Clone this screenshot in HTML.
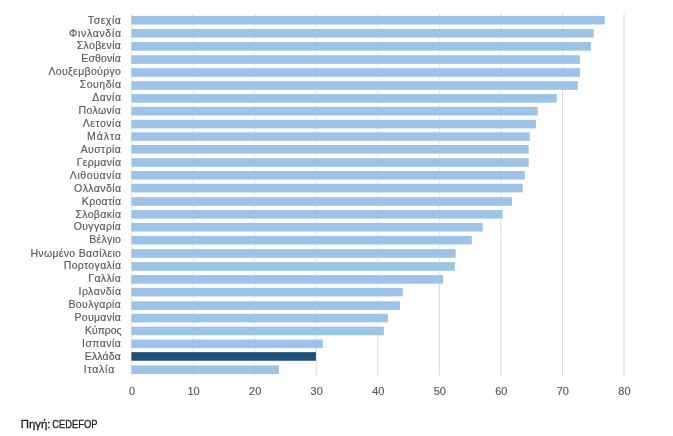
<!DOCTYPE html>
<html><head><meta charset="utf-8"><style>
html,body{margin:0;padding:0;background:#fff;}
svg{display:block;will-change:transform;font-family:"Liberation Sans",sans-serif;}
text{font-size:10.5px;fill:#595959;stroke:#595959;stroke-width:0.15px;}
text.ax{font-size:11px;stroke-width:0.15px;}
text.src{font-size:10.4px;fill:#222228;stroke:#222228;stroke-width:0.3px;}
</style></head><body>
<svg width="673" height="436" viewBox="0 0 673 436">
<rect width="673" height="436" fill="#fff"/>
<line x1="131.70" y1="13.80" x2="131.70" y2="24.50" stroke="#d9d9d9" stroke-width="1"/>
<line x1="131.70" y1="24.50" x2="131.70" y2="29.00" stroke="#eaeaea" stroke-width="1"/>
<line x1="131.70" y1="29.00" x2="131.70" y2="37.60" stroke="#d9d9d9" stroke-width="1"/>
<line x1="131.70" y1="37.60" x2="131.70" y2="42.05" stroke="#eaeaea" stroke-width="1"/>
<line x1="131.70" y1="42.05" x2="131.70" y2="50.65" stroke="#d9d9d9" stroke-width="1"/>
<line x1="131.70" y1="50.65" x2="131.70" y2="55.25" stroke="#eaeaea" stroke-width="1"/>
<line x1="131.70" y1="55.25" x2="131.70" y2="63.85" stroke="#d9d9d9" stroke-width="1"/>
<line x1="131.70" y1="63.85" x2="131.70" y2="68.20" stroke="#eaeaea" stroke-width="1"/>
<line x1="131.70" y1="68.20" x2="131.70" y2="76.80" stroke="#d9d9d9" stroke-width="1"/>
<line x1="131.70" y1="76.80" x2="131.70" y2="81.20" stroke="#eaeaea" stroke-width="1"/>
<line x1="131.70" y1="81.20" x2="131.70" y2="89.80" stroke="#d9d9d9" stroke-width="1"/>
<line x1="131.70" y1="89.80" x2="131.70" y2="94.05" stroke="#eaeaea" stroke-width="1"/>
<line x1="131.70" y1="94.05" x2="131.70" y2="102.65" stroke="#d9d9d9" stroke-width="1"/>
<line x1="131.70" y1="102.65" x2="131.70" y2="106.90" stroke="#eaeaea" stroke-width="1"/>
<line x1="131.70" y1="106.90" x2="131.70" y2="115.50" stroke="#d9d9d9" stroke-width="1"/>
<line x1="131.70" y1="115.50" x2="131.70" y2="119.85" stroke="#eaeaea" stroke-width="1"/>
<line x1="131.70" y1="119.85" x2="131.70" y2="128.45" stroke="#d9d9d9" stroke-width="1"/>
<line x1="131.70" y1="128.45" x2="131.70" y2="132.25" stroke="#eaeaea" stroke-width="1"/>
<line x1="131.70" y1="132.25" x2="131.70" y2="140.85" stroke="#d9d9d9" stroke-width="1"/>
<line x1="131.70" y1="140.85" x2="131.70" y2="145.00" stroke="#eaeaea" stroke-width="1"/>
<line x1="131.70" y1="145.00" x2="131.70" y2="153.60" stroke="#d9d9d9" stroke-width="1"/>
<line x1="131.70" y1="153.60" x2="131.70" y2="158.20" stroke="#eaeaea" stroke-width="1"/>
<line x1="131.70" y1="158.20" x2="131.70" y2="166.80" stroke="#d9d9d9" stroke-width="1"/>
<line x1="131.70" y1="166.80" x2="131.70" y2="171.00" stroke="#eaeaea" stroke-width="1"/>
<line x1="131.70" y1="171.00" x2="131.70" y2="179.60" stroke="#d9d9d9" stroke-width="1"/>
<line x1="131.70" y1="179.60" x2="131.70" y2="183.80" stroke="#eaeaea" stroke-width="1"/>
<line x1="131.70" y1="183.80" x2="131.70" y2="192.40" stroke="#d9d9d9" stroke-width="1"/>
<line x1="131.70" y1="192.40" x2="131.70" y2="197.20" stroke="#eaeaea" stroke-width="1"/>
<line x1="131.70" y1="197.20" x2="131.70" y2="205.80" stroke="#d9d9d9" stroke-width="1"/>
<line x1="131.70" y1="205.80" x2="131.70" y2="210.05" stroke="#eaeaea" stroke-width="1"/>
<line x1="131.70" y1="210.05" x2="131.70" y2="218.65" stroke="#d9d9d9" stroke-width="1"/>
<line x1="131.70" y1="218.65" x2="131.70" y2="222.90" stroke="#eaeaea" stroke-width="1"/>
<line x1="131.70" y1="222.90" x2="131.70" y2="231.50" stroke="#d9d9d9" stroke-width="1"/>
<line x1="131.70" y1="231.50" x2="131.70" y2="235.90" stroke="#eaeaea" stroke-width="1"/>
<line x1="131.70" y1="235.90" x2="131.70" y2="244.50" stroke="#d9d9d9" stroke-width="1"/>
<line x1="131.70" y1="244.50" x2="131.70" y2="249.10" stroke="#eaeaea" stroke-width="1"/>
<line x1="131.70" y1="249.10" x2="131.70" y2="257.70" stroke="#d9d9d9" stroke-width="1"/>
<line x1="131.70" y1="257.70" x2="131.70" y2="262.15" stroke="#eaeaea" stroke-width="1"/>
<line x1="131.70" y1="262.15" x2="131.70" y2="270.75" stroke="#d9d9d9" stroke-width="1"/>
<line x1="131.70" y1="270.75" x2="131.70" y2="275.10" stroke="#eaeaea" stroke-width="1"/>
<line x1="131.70" y1="275.10" x2="131.70" y2="283.70" stroke="#d9d9d9" stroke-width="1"/>
<line x1="131.70" y1="283.70" x2="131.70" y2="287.81" stroke="#eaeaea" stroke-width="1"/>
<line x1="131.70" y1="287.81" x2="131.70" y2="296.42" stroke="#d9d9d9" stroke-width="1"/>
<line x1="131.70" y1="296.42" x2="131.70" y2="301.30" stroke="#eaeaea" stroke-width="1"/>
<line x1="131.70" y1="301.30" x2="131.70" y2="309.90" stroke="#d9d9d9" stroke-width="1"/>
<line x1="131.70" y1="309.90" x2="131.70" y2="313.80" stroke="#eaeaea" stroke-width="1"/>
<line x1="131.70" y1="313.80" x2="131.70" y2="322.40" stroke="#d9d9d9" stroke-width="1"/>
<line x1="131.70" y1="322.40" x2="131.70" y2="326.65" stroke="#eaeaea" stroke-width="1"/>
<line x1="131.70" y1="326.65" x2="131.70" y2="335.25" stroke="#d9d9d9" stroke-width="1"/>
<line x1="131.70" y1="335.25" x2="131.70" y2="339.50" stroke="#eaeaea" stroke-width="1"/>
<line x1="131.70" y1="339.50" x2="131.70" y2="348.10" stroke="#d9d9d9" stroke-width="1"/>
<line x1="131.70" y1="348.10" x2="131.70" y2="352.15" stroke="#eaeaea" stroke-width="1"/>
<line x1="131.70" y1="352.15" x2="131.70" y2="360.75" stroke="#d9d9d9" stroke-width="1"/>
<line x1="131.70" y1="360.75" x2="131.70" y2="365.43" stroke="#eaeaea" stroke-width="1"/>
<line x1="131.70" y1="365.43" x2="131.70" y2="375.60" stroke="#d9d9d9" stroke-width="1"/>
<line x1="193.24" y1="13.80" x2="193.24" y2="24.50" stroke="#d9d9d9" stroke-width="1"/>
<line x1="193.24" y1="24.50" x2="193.24" y2="29.00" stroke="#eaeaea" stroke-width="1"/>
<line x1="193.24" y1="29.00" x2="193.24" y2="37.60" stroke="#d9d9d9" stroke-width="1"/>
<line x1="193.24" y1="37.60" x2="193.24" y2="42.05" stroke="#eaeaea" stroke-width="1"/>
<line x1="193.24" y1="42.05" x2="193.24" y2="50.65" stroke="#d9d9d9" stroke-width="1"/>
<line x1="193.24" y1="50.65" x2="193.24" y2="55.25" stroke="#eaeaea" stroke-width="1"/>
<line x1="193.24" y1="55.25" x2="193.24" y2="63.85" stroke="#d9d9d9" stroke-width="1"/>
<line x1="193.24" y1="63.85" x2="193.24" y2="68.20" stroke="#eaeaea" stroke-width="1"/>
<line x1="193.24" y1="68.20" x2="193.24" y2="76.80" stroke="#d9d9d9" stroke-width="1"/>
<line x1="193.24" y1="76.80" x2="193.24" y2="81.20" stroke="#eaeaea" stroke-width="1"/>
<line x1="193.24" y1="81.20" x2="193.24" y2="89.80" stroke="#d9d9d9" stroke-width="1"/>
<line x1="193.24" y1="89.80" x2="193.24" y2="94.05" stroke="#eaeaea" stroke-width="1"/>
<line x1="193.24" y1="94.05" x2="193.24" y2="102.65" stroke="#d9d9d9" stroke-width="1"/>
<line x1="193.24" y1="102.65" x2="193.24" y2="106.90" stroke="#eaeaea" stroke-width="1"/>
<line x1="193.24" y1="106.90" x2="193.24" y2="115.50" stroke="#d9d9d9" stroke-width="1"/>
<line x1="193.24" y1="115.50" x2="193.24" y2="119.85" stroke="#eaeaea" stroke-width="1"/>
<line x1="193.24" y1="119.85" x2="193.24" y2="128.45" stroke="#d9d9d9" stroke-width="1"/>
<line x1="193.24" y1="128.45" x2="193.24" y2="132.25" stroke="#eaeaea" stroke-width="1"/>
<line x1="193.24" y1="132.25" x2="193.24" y2="140.85" stroke="#d9d9d9" stroke-width="1"/>
<line x1="193.24" y1="140.85" x2="193.24" y2="145.00" stroke="#eaeaea" stroke-width="1"/>
<line x1="193.24" y1="145.00" x2="193.24" y2="153.60" stroke="#d9d9d9" stroke-width="1"/>
<line x1="193.24" y1="153.60" x2="193.24" y2="158.20" stroke="#eaeaea" stroke-width="1"/>
<line x1="193.24" y1="158.20" x2="193.24" y2="166.80" stroke="#d9d9d9" stroke-width="1"/>
<line x1="193.24" y1="166.80" x2="193.24" y2="171.00" stroke="#eaeaea" stroke-width="1"/>
<line x1="193.24" y1="171.00" x2="193.24" y2="179.60" stroke="#d9d9d9" stroke-width="1"/>
<line x1="193.24" y1="179.60" x2="193.24" y2="183.80" stroke="#eaeaea" stroke-width="1"/>
<line x1="193.24" y1="183.80" x2="193.24" y2="192.40" stroke="#d9d9d9" stroke-width="1"/>
<line x1="193.24" y1="192.40" x2="193.24" y2="197.20" stroke="#eaeaea" stroke-width="1"/>
<line x1="193.24" y1="197.20" x2="193.24" y2="205.80" stroke="#d9d9d9" stroke-width="1"/>
<line x1="193.24" y1="205.80" x2="193.24" y2="210.05" stroke="#eaeaea" stroke-width="1"/>
<line x1="193.24" y1="210.05" x2="193.24" y2="218.65" stroke="#d9d9d9" stroke-width="1"/>
<line x1="193.24" y1="218.65" x2="193.24" y2="222.90" stroke="#eaeaea" stroke-width="1"/>
<line x1="193.24" y1="222.90" x2="193.24" y2="231.50" stroke="#d9d9d9" stroke-width="1"/>
<line x1="193.24" y1="231.50" x2="193.24" y2="235.90" stroke="#eaeaea" stroke-width="1"/>
<line x1="193.24" y1="235.90" x2="193.24" y2="244.50" stroke="#d9d9d9" stroke-width="1"/>
<line x1="193.24" y1="244.50" x2="193.24" y2="249.10" stroke="#eaeaea" stroke-width="1"/>
<line x1="193.24" y1="249.10" x2="193.24" y2="257.70" stroke="#d9d9d9" stroke-width="1"/>
<line x1="193.24" y1="257.70" x2="193.24" y2="262.15" stroke="#eaeaea" stroke-width="1"/>
<line x1="193.24" y1="262.15" x2="193.24" y2="270.75" stroke="#d9d9d9" stroke-width="1"/>
<line x1="193.24" y1="270.75" x2="193.24" y2="275.10" stroke="#eaeaea" stroke-width="1"/>
<line x1="193.24" y1="275.10" x2="193.24" y2="283.70" stroke="#d9d9d9" stroke-width="1"/>
<line x1="193.24" y1="283.70" x2="193.24" y2="287.81" stroke="#eaeaea" stroke-width="1"/>
<line x1="193.24" y1="287.81" x2="193.24" y2="296.42" stroke="#d9d9d9" stroke-width="1"/>
<line x1="193.24" y1="296.42" x2="193.24" y2="301.30" stroke="#eaeaea" stroke-width="1"/>
<line x1="193.24" y1="301.30" x2="193.24" y2="309.90" stroke="#d9d9d9" stroke-width="1"/>
<line x1="193.24" y1="309.90" x2="193.24" y2="313.80" stroke="#eaeaea" stroke-width="1"/>
<line x1="193.24" y1="313.80" x2="193.24" y2="322.40" stroke="#d9d9d9" stroke-width="1"/>
<line x1="193.24" y1="322.40" x2="193.24" y2="326.65" stroke="#eaeaea" stroke-width="1"/>
<line x1="193.24" y1="326.65" x2="193.24" y2="335.25" stroke="#d9d9d9" stroke-width="1"/>
<line x1="193.24" y1="335.25" x2="193.24" y2="339.50" stroke="#eaeaea" stroke-width="1"/>
<line x1="193.24" y1="339.50" x2="193.24" y2="348.10" stroke="#d9d9d9" stroke-width="1"/>
<line x1="193.24" y1="348.10" x2="193.24" y2="352.15" stroke="#eaeaea" stroke-width="1"/>
<line x1="193.24" y1="352.15" x2="193.24" y2="360.75" stroke="#d9d9d9" stroke-width="1"/>
<line x1="193.24" y1="360.75" x2="193.24" y2="365.43" stroke="#eaeaea" stroke-width="1"/>
<line x1="193.24" y1="365.43" x2="193.24" y2="375.60" stroke="#d9d9d9" stroke-width="1"/>
<line x1="254.78" y1="13.80" x2="254.78" y2="24.50" stroke="#d9d9d9" stroke-width="1"/>
<line x1="254.78" y1="24.50" x2="254.78" y2="29.00" stroke="#eaeaea" stroke-width="1"/>
<line x1="254.78" y1="29.00" x2="254.78" y2="37.60" stroke="#d9d9d9" stroke-width="1"/>
<line x1="254.78" y1="37.60" x2="254.78" y2="42.05" stroke="#eaeaea" stroke-width="1"/>
<line x1="254.78" y1="42.05" x2="254.78" y2="50.65" stroke="#d9d9d9" stroke-width="1"/>
<line x1="254.78" y1="50.65" x2="254.78" y2="55.25" stroke="#eaeaea" stroke-width="1"/>
<line x1="254.78" y1="55.25" x2="254.78" y2="63.85" stroke="#d9d9d9" stroke-width="1"/>
<line x1="254.78" y1="63.85" x2="254.78" y2="68.20" stroke="#eaeaea" stroke-width="1"/>
<line x1="254.78" y1="68.20" x2="254.78" y2="76.80" stroke="#d9d9d9" stroke-width="1"/>
<line x1="254.78" y1="76.80" x2="254.78" y2="81.20" stroke="#eaeaea" stroke-width="1"/>
<line x1="254.78" y1="81.20" x2="254.78" y2="89.80" stroke="#d9d9d9" stroke-width="1"/>
<line x1="254.78" y1="89.80" x2="254.78" y2="94.05" stroke="#eaeaea" stroke-width="1"/>
<line x1="254.78" y1="94.05" x2="254.78" y2="102.65" stroke="#d9d9d9" stroke-width="1"/>
<line x1="254.78" y1="102.65" x2="254.78" y2="106.90" stroke="#eaeaea" stroke-width="1"/>
<line x1="254.78" y1="106.90" x2="254.78" y2="115.50" stroke="#d9d9d9" stroke-width="1"/>
<line x1="254.78" y1="115.50" x2="254.78" y2="119.85" stroke="#eaeaea" stroke-width="1"/>
<line x1="254.78" y1="119.85" x2="254.78" y2="128.45" stroke="#d9d9d9" stroke-width="1"/>
<line x1="254.78" y1="128.45" x2="254.78" y2="132.25" stroke="#eaeaea" stroke-width="1"/>
<line x1="254.78" y1="132.25" x2="254.78" y2="140.85" stroke="#d9d9d9" stroke-width="1"/>
<line x1="254.78" y1="140.85" x2="254.78" y2="145.00" stroke="#eaeaea" stroke-width="1"/>
<line x1="254.78" y1="145.00" x2="254.78" y2="153.60" stroke="#d9d9d9" stroke-width="1"/>
<line x1="254.78" y1="153.60" x2="254.78" y2="158.20" stroke="#eaeaea" stroke-width="1"/>
<line x1="254.78" y1="158.20" x2="254.78" y2="166.80" stroke="#d9d9d9" stroke-width="1"/>
<line x1="254.78" y1="166.80" x2="254.78" y2="171.00" stroke="#eaeaea" stroke-width="1"/>
<line x1="254.78" y1="171.00" x2="254.78" y2="179.60" stroke="#d9d9d9" stroke-width="1"/>
<line x1="254.78" y1="179.60" x2="254.78" y2="183.80" stroke="#eaeaea" stroke-width="1"/>
<line x1="254.78" y1="183.80" x2="254.78" y2="192.40" stroke="#d9d9d9" stroke-width="1"/>
<line x1="254.78" y1="192.40" x2="254.78" y2="197.20" stroke="#eaeaea" stroke-width="1"/>
<line x1="254.78" y1="197.20" x2="254.78" y2="205.80" stroke="#d9d9d9" stroke-width="1"/>
<line x1="254.78" y1="205.80" x2="254.78" y2="210.05" stroke="#eaeaea" stroke-width="1"/>
<line x1="254.78" y1="210.05" x2="254.78" y2="218.65" stroke="#d9d9d9" stroke-width="1"/>
<line x1="254.78" y1="218.65" x2="254.78" y2="222.90" stroke="#eaeaea" stroke-width="1"/>
<line x1="254.78" y1="222.90" x2="254.78" y2="231.50" stroke="#d9d9d9" stroke-width="1"/>
<line x1="254.78" y1="231.50" x2="254.78" y2="235.90" stroke="#eaeaea" stroke-width="1"/>
<line x1="254.78" y1="235.90" x2="254.78" y2="244.50" stroke="#d9d9d9" stroke-width="1"/>
<line x1="254.78" y1="244.50" x2="254.78" y2="249.10" stroke="#eaeaea" stroke-width="1"/>
<line x1="254.78" y1="249.10" x2="254.78" y2="257.70" stroke="#d9d9d9" stroke-width="1"/>
<line x1="254.78" y1="257.70" x2="254.78" y2="262.15" stroke="#eaeaea" stroke-width="1"/>
<line x1="254.78" y1="262.15" x2="254.78" y2="270.75" stroke="#d9d9d9" stroke-width="1"/>
<line x1="254.78" y1="270.75" x2="254.78" y2="275.10" stroke="#eaeaea" stroke-width="1"/>
<line x1="254.78" y1="275.10" x2="254.78" y2="283.70" stroke="#d9d9d9" stroke-width="1"/>
<line x1="254.78" y1="283.70" x2="254.78" y2="287.81" stroke="#eaeaea" stroke-width="1"/>
<line x1="254.78" y1="287.81" x2="254.78" y2="296.42" stroke="#d9d9d9" stroke-width="1"/>
<line x1="254.78" y1="296.42" x2="254.78" y2="301.30" stroke="#eaeaea" stroke-width="1"/>
<line x1="254.78" y1="301.30" x2="254.78" y2="309.90" stroke="#d9d9d9" stroke-width="1"/>
<line x1="254.78" y1="309.90" x2="254.78" y2="313.80" stroke="#eaeaea" stroke-width="1"/>
<line x1="254.78" y1="313.80" x2="254.78" y2="322.40" stroke="#d9d9d9" stroke-width="1"/>
<line x1="254.78" y1="322.40" x2="254.78" y2="326.65" stroke="#eaeaea" stroke-width="1"/>
<line x1="254.78" y1="326.65" x2="254.78" y2="335.25" stroke="#d9d9d9" stroke-width="1"/>
<line x1="254.78" y1="335.25" x2="254.78" y2="339.50" stroke="#eaeaea" stroke-width="1"/>
<line x1="254.78" y1="339.50" x2="254.78" y2="348.10" stroke="#d9d9d9" stroke-width="1"/>
<line x1="254.78" y1="348.10" x2="254.78" y2="352.15" stroke="#eaeaea" stroke-width="1"/>
<line x1="254.78" y1="352.15" x2="254.78" y2="360.75" stroke="#d9d9d9" stroke-width="1"/>
<line x1="254.78" y1="360.75" x2="254.78" y2="365.43" stroke="#eaeaea" stroke-width="1"/>
<line x1="254.78" y1="365.43" x2="254.78" y2="375.60" stroke="#d9d9d9" stroke-width="1"/>
<line x1="316.32" y1="13.80" x2="316.32" y2="24.50" stroke="#d9d9d9" stroke-width="1"/>
<line x1="316.32" y1="24.50" x2="316.32" y2="29.00" stroke="#eaeaea" stroke-width="1"/>
<line x1="316.32" y1="29.00" x2="316.32" y2="37.60" stroke="#d9d9d9" stroke-width="1"/>
<line x1="316.32" y1="37.60" x2="316.32" y2="42.05" stroke="#eaeaea" stroke-width="1"/>
<line x1="316.32" y1="42.05" x2="316.32" y2="50.65" stroke="#d9d9d9" stroke-width="1"/>
<line x1="316.32" y1="50.65" x2="316.32" y2="55.25" stroke="#eaeaea" stroke-width="1"/>
<line x1="316.32" y1="55.25" x2="316.32" y2="63.85" stroke="#d9d9d9" stroke-width="1"/>
<line x1="316.32" y1="63.85" x2="316.32" y2="68.20" stroke="#eaeaea" stroke-width="1"/>
<line x1="316.32" y1="68.20" x2="316.32" y2="76.80" stroke="#d9d9d9" stroke-width="1"/>
<line x1="316.32" y1="76.80" x2="316.32" y2="81.20" stroke="#eaeaea" stroke-width="1"/>
<line x1="316.32" y1="81.20" x2="316.32" y2="89.80" stroke="#d9d9d9" stroke-width="1"/>
<line x1="316.32" y1="89.80" x2="316.32" y2="94.05" stroke="#eaeaea" stroke-width="1"/>
<line x1="316.32" y1="94.05" x2="316.32" y2="102.65" stroke="#d9d9d9" stroke-width="1"/>
<line x1="316.32" y1="102.65" x2="316.32" y2="106.90" stroke="#eaeaea" stroke-width="1"/>
<line x1="316.32" y1="106.90" x2="316.32" y2="115.50" stroke="#d9d9d9" stroke-width="1"/>
<line x1="316.32" y1="115.50" x2="316.32" y2="119.85" stroke="#eaeaea" stroke-width="1"/>
<line x1="316.32" y1="119.85" x2="316.32" y2="128.45" stroke="#d9d9d9" stroke-width="1"/>
<line x1="316.32" y1="128.45" x2="316.32" y2="132.25" stroke="#eaeaea" stroke-width="1"/>
<line x1="316.32" y1="132.25" x2="316.32" y2="140.85" stroke="#d9d9d9" stroke-width="1"/>
<line x1="316.32" y1="140.85" x2="316.32" y2="145.00" stroke="#eaeaea" stroke-width="1"/>
<line x1="316.32" y1="145.00" x2="316.32" y2="153.60" stroke="#d9d9d9" stroke-width="1"/>
<line x1="316.32" y1="153.60" x2="316.32" y2="158.20" stroke="#eaeaea" stroke-width="1"/>
<line x1="316.32" y1="158.20" x2="316.32" y2="166.80" stroke="#d9d9d9" stroke-width="1"/>
<line x1="316.32" y1="166.80" x2="316.32" y2="171.00" stroke="#eaeaea" stroke-width="1"/>
<line x1="316.32" y1="171.00" x2="316.32" y2="179.60" stroke="#d9d9d9" stroke-width="1"/>
<line x1="316.32" y1="179.60" x2="316.32" y2="183.80" stroke="#eaeaea" stroke-width="1"/>
<line x1="316.32" y1="183.80" x2="316.32" y2="192.40" stroke="#d9d9d9" stroke-width="1"/>
<line x1="316.32" y1="192.40" x2="316.32" y2="197.20" stroke="#eaeaea" stroke-width="1"/>
<line x1="316.32" y1="197.20" x2="316.32" y2="205.80" stroke="#d9d9d9" stroke-width="1"/>
<line x1="316.32" y1="205.80" x2="316.32" y2="210.05" stroke="#eaeaea" stroke-width="1"/>
<line x1="316.32" y1="210.05" x2="316.32" y2="218.65" stroke="#d9d9d9" stroke-width="1"/>
<line x1="316.32" y1="218.65" x2="316.32" y2="222.90" stroke="#eaeaea" stroke-width="1"/>
<line x1="316.32" y1="222.90" x2="316.32" y2="231.50" stroke="#d9d9d9" stroke-width="1"/>
<line x1="316.32" y1="231.50" x2="316.32" y2="235.90" stroke="#eaeaea" stroke-width="1"/>
<line x1="316.32" y1="235.90" x2="316.32" y2="244.50" stroke="#d9d9d9" stroke-width="1"/>
<line x1="316.32" y1="244.50" x2="316.32" y2="249.10" stroke="#eaeaea" stroke-width="1"/>
<line x1="316.32" y1="249.10" x2="316.32" y2="257.70" stroke="#d9d9d9" stroke-width="1"/>
<line x1="316.32" y1="257.70" x2="316.32" y2="262.15" stroke="#eaeaea" stroke-width="1"/>
<line x1="316.32" y1="262.15" x2="316.32" y2="270.75" stroke="#d9d9d9" stroke-width="1"/>
<line x1="316.32" y1="270.75" x2="316.32" y2="275.10" stroke="#eaeaea" stroke-width="1"/>
<line x1="316.32" y1="275.10" x2="316.32" y2="283.70" stroke="#d9d9d9" stroke-width="1"/>
<line x1="316.32" y1="283.70" x2="316.32" y2="287.81" stroke="#eaeaea" stroke-width="1"/>
<line x1="316.32" y1="287.81" x2="316.32" y2="296.42" stroke="#d9d9d9" stroke-width="1"/>
<line x1="316.32" y1="296.42" x2="316.32" y2="301.30" stroke="#eaeaea" stroke-width="1"/>
<line x1="316.32" y1="301.30" x2="316.32" y2="309.90" stroke="#d9d9d9" stroke-width="1"/>
<line x1="316.32" y1="309.90" x2="316.32" y2="313.80" stroke="#eaeaea" stroke-width="1"/>
<line x1="316.32" y1="313.80" x2="316.32" y2="322.40" stroke="#d9d9d9" stroke-width="1"/>
<line x1="316.32" y1="322.40" x2="316.32" y2="326.65" stroke="#eaeaea" stroke-width="1"/>
<line x1="316.32" y1="326.65" x2="316.32" y2="335.25" stroke="#d9d9d9" stroke-width="1"/>
<line x1="316.32" y1="335.25" x2="316.32" y2="339.50" stroke="#eaeaea" stroke-width="1"/>
<line x1="316.32" y1="339.50" x2="316.32" y2="375.60" stroke="#d9d9d9" stroke-width="1"/>
<line x1="377.86" y1="13.80" x2="377.86" y2="24.50" stroke="#d9d9d9" stroke-width="1"/>
<line x1="377.86" y1="24.50" x2="377.86" y2="29.00" stroke="#eaeaea" stroke-width="1"/>
<line x1="377.86" y1="29.00" x2="377.86" y2="37.60" stroke="#d9d9d9" stroke-width="1"/>
<line x1="377.86" y1="37.60" x2="377.86" y2="42.05" stroke="#eaeaea" stroke-width="1"/>
<line x1="377.86" y1="42.05" x2="377.86" y2="50.65" stroke="#d9d9d9" stroke-width="1"/>
<line x1="377.86" y1="50.65" x2="377.86" y2="55.25" stroke="#eaeaea" stroke-width="1"/>
<line x1="377.86" y1="55.25" x2="377.86" y2="63.85" stroke="#d9d9d9" stroke-width="1"/>
<line x1="377.86" y1="63.85" x2="377.86" y2="68.20" stroke="#eaeaea" stroke-width="1"/>
<line x1="377.86" y1="68.20" x2="377.86" y2="76.80" stroke="#d9d9d9" stroke-width="1"/>
<line x1="377.86" y1="76.80" x2="377.86" y2="81.20" stroke="#eaeaea" stroke-width="1"/>
<line x1="377.86" y1="81.20" x2="377.86" y2="89.80" stroke="#d9d9d9" stroke-width="1"/>
<line x1="377.86" y1="89.80" x2="377.86" y2="94.05" stroke="#eaeaea" stroke-width="1"/>
<line x1="377.86" y1="94.05" x2="377.86" y2="102.65" stroke="#d9d9d9" stroke-width="1"/>
<line x1="377.86" y1="102.65" x2="377.86" y2="106.90" stroke="#eaeaea" stroke-width="1"/>
<line x1="377.86" y1="106.90" x2="377.86" y2="115.50" stroke="#d9d9d9" stroke-width="1"/>
<line x1="377.86" y1="115.50" x2="377.86" y2="119.85" stroke="#eaeaea" stroke-width="1"/>
<line x1="377.86" y1="119.85" x2="377.86" y2="128.45" stroke="#d9d9d9" stroke-width="1"/>
<line x1="377.86" y1="128.45" x2="377.86" y2="132.25" stroke="#eaeaea" stroke-width="1"/>
<line x1="377.86" y1="132.25" x2="377.86" y2="140.85" stroke="#d9d9d9" stroke-width="1"/>
<line x1="377.86" y1="140.85" x2="377.86" y2="145.00" stroke="#eaeaea" stroke-width="1"/>
<line x1="377.86" y1="145.00" x2="377.86" y2="153.60" stroke="#d9d9d9" stroke-width="1"/>
<line x1="377.86" y1="153.60" x2="377.86" y2="158.20" stroke="#eaeaea" stroke-width="1"/>
<line x1="377.86" y1="158.20" x2="377.86" y2="166.80" stroke="#d9d9d9" stroke-width="1"/>
<line x1="377.86" y1="166.80" x2="377.86" y2="171.00" stroke="#eaeaea" stroke-width="1"/>
<line x1="377.86" y1="171.00" x2="377.86" y2="179.60" stroke="#d9d9d9" stroke-width="1"/>
<line x1="377.86" y1="179.60" x2="377.86" y2="183.80" stroke="#eaeaea" stroke-width="1"/>
<line x1="377.86" y1="183.80" x2="377.86" y2="192.40" stroke="#d9d9d9" stroke-width="1"/>
<line x1="377.86" y1="192.40" x2="377.86" y2="197.20" stroke="#eaeaea" stroke-width="1"/>
<line x1="377.86" y1="197.20" x2="377.86" y2="205.80" stroke="#d9d9d9" stroke-width="1"/>
<line x1="377.86" y1="205.80" x2="377.86" y2="210.05" stroke="#eaeaea" stroke-width="1"/>
<line x1="377.86" y1="210.05" x2="377.86" y2="218.65" stroke="#d9d9d9" stroke-width="1"/>
<line x1="377.86" y1="218.65" x2="377.86" y2="222.90" stroke="#eaeaea" stroke-width="1"/>
<line x1="377.86" y1="222.90" x2="377.86" y2="231.50" stroke="#d9d9d9" stroke-width="1"/>
<line x1="377.86" y1="231.50" x2="377.86" y2="235.90" stroke="#eaeaea" stroke-width="1"/>
<line x1="377.86" y1="235.90" x2="377.86" y2="244.50" stroke="#d9d9d9" stroke-width="1"/>
<line x1="377.86" y1="244.50" x2="377.86" y2="249.10" stroke="#eaeaea" stroke-width="1"/>
<line x1="377.86" y1="249.10" x2="377.86" y2="257.70" stroke="#d9d9d9" stroke-width="1"/>
<line x1="377.86" y1="257.70" x2="377.86" y2="262.15" stroke="#eaeaea" stroke-width="1"/>
<line x1="377.86" y1="262.15" x2="377.86" y2="270.75" stroke="#d9d9d9" stroke-width="1"/>
<line x1="377.86" y1="270.75" x2="377.86" y2="275.10" stroke="#eaeaea" stroke-width="1"/>
<line x1="377.86" y1="275.10" x2="377.86" y2="283.70" stroke="#d9d9d9" stroke-width="1"/>
<line x1="377.86" y1="283.70" x2="377.86" y2="287.81" stroke="#eaeaea" stroke-width="1"/>
<line x1="377.86" y1="287.81" x2="377.86" y2="296.42" stroke="#d9d9d9" stroke-width="1"/>
<line x1="377.86" y1="296.42" x2="377.86" y2="301.30" stroke="#eaeaea" stroke-width="1"/>
<line x1="377.86" y1="301.30" x2="377.86" y2="309.90" stroke="#d9d9d9" stroke-width="1"/>
<line x1="377.86" y1="309.90" x2="377.86" y2="313.80" stroke="#eaeaea" stroke-width="1"/>
<line x1="377.86" y1="313.80" x2="377.86" y2="322.40" stroke="#d9d9d9" stroke-width="1"/>
<line x1="377.86" y1="322.40" x2="377.86" y2="326.65" stroke="#eaeaea" stroke-width="1"/>
<line x1="377.86" y1="326.65" x2="377.86" y2="375.60" stroke="#d9d9d9" stroke-width="1"/>
<line x1="439.40" y1="13.80" x2="439.40" y2="24.50" stroke="#d9d9d9" stroke-width="1"/>
<line x1="439.40" y1="24.50" x2="439.40" y2="29.00" stroke="#eaeaea" stroke-width="1"/>
<line x1="439.40" y1="29.00" x2="439.40" y2="37.60" stroke="#d9d9d9" stroke-width="1"/>
<line x1="439.40" y1="37.60" x2="439.40" y2="42.05" stroke="#eaeaea" stroke-width="1"/>
<line x1="439.40" y1="42.05" x2="439.40" y2="50.65" stroke="#d9d9d9" stroke-width="1"/>
<line x1="439.40" y1="50.65" x2="439.40" y2="55.25" stroke="#eaeaea" stroke-width="1"/>
<line x1="439.40" y1="55.25" x2="439.40" y2="63.85" stroke="#d9d9d9" stroke-width="1"/>
<line x1="439.40" y1="63.85" x2="439.40" y2="68.20" stroke="#eaeaea" stroke-width="1"/>
<line x1="439.40" y1="68.20" x2="439.40" y2="76.80" stroke="#d9d9d9" stroke-width="1"/>
<line x1="439.40" y1="76.80" x2="439.40" y2="81.20" stroke="#eaeaea" stroke-width="1"/>
<line x1="439.40" y1="81.20" x2="439.40" y2="89.80" stroke="#d9d9d9" stroke-width="1"/>
<line x1="439.40" y1="89.80" x2="439.40" y2="94.05" stroke="#eaeaea" stroke-width="1"/>
<line x1="439.40" y1="94.05" x2="439.40" y2="102.65" stroke="#d9d9d9" stroke-width="1"/>
<line x1="439.40" y1="102.65" x2="439.40" y2="106.90" stroke="#eaeaea" stroke-width="1"/>
<line x1="439.40" y1="106.90" x2="439.40" y2="115.50" stroke="#d9d9d9" stroke-width="1"/>
<line x1="439.40" y1="115.50" x2="439.40" y2="119.85" stroke="#eaeaea" stroke-width="1"/>
<line x1="439.40" y1="119.85" x2="439.40" y2="128.45" stroke="#d9d9d9" stroke-width="1"/>
<line x1="439.40" y1="128.45" x2="439.40" y2="132.25" stroke="#eaeaea" stroke-width="1"/>
<line x1="439.40" y1="132.25" x2="439.40" y2="140.85" stroke="#d9d9d9" stroke-width="1"/>
<line x1="439.40" y1="140.85" x2="439.40" y2="145.00" stroke="#eaeaea" stroke-width="1"/>
<line x1="439.40" y1="145.00" x2="439.40" y2="153.60" stroke="#d9d9d9" stroke-width="1"/>
<line x1="439.40" y1="153.60" x2="439.40" y2="158.20" stroke="#eaeaea" stroke-width="1"/>
<line x1="439.40" y1="158.20" x2="439.40" y2="166.80" stroke="#d9d9d9" stroke-width="1"/>
<line x1="439.40" y1="166.80" x2="439.40" y2="171.00" stroke="#eaeaea" stroke-width="1"/>
<line x1="439.40" y1="171.00" x2="439.40" y2="179.60" stroke="#d9d9d9" stroke-width="1"/>
<line x1="439.40" y1="179.60" x2="439.40" y2="183.80" stroke="#eaeaea" stroke-width="1"/>
<line x1="439.40" y1="183.80" x2="439.40" y2="192.40" stroke="#d9d9d9" stroke-width="1"/>
<line x1="439.40" y1="192.40" x2="439.40" y2="197.20" stroke="#eaeaea" stroke-width="1"/>
<line x1="439.40" y1="197.20" x2="439.40" y2="205.80" stroke="#d9d9d9" stroke-width="1"/>
<line x1="439.40" y1="205.80" x2="439.40" y2="210.05" stroke="#eaeaea" stroke-width="1"/>
<line x1="439.40" y1="210.05" x2="439.40" y2="218.65" stroke="#d9d9d9" stroke-width="1"/>
<line x1="439.40" y1="218.65" x2="439.40" y2="222.90" stroke="#eaeaea" stroke-width="1"/>
<line x1="439.40" y1="222.90" x2="439.40" y2="231.50" stroke="#d9d9d9" stroke-width="1"/>
<line x1="439.40" y1="231.50" x2="439.40" y2="235.90" stroke="#eaeaea" stroke-width="1"/>
<line x1="439.40" y1="235.90" x2="439.40" y2="244.50" stroke="#d9d9d9" stroke-width="1"/>
<line x1="439.40" y1="244.50" x2="439.40" y2="249.10" stroke="#eaeaea" stroke-width="1"/>
<line x1="439.40" y1="249.10" x2="439.40" y2="257.70" stroke="#d9d9d9" stroke-width="1"/>
<line x1="439.40" y1="257.70" x2="439.40" y2="262.15" stroke="#eaeaea" stroke-width="1"/>
<line x1="439.40" y1="262.15" x2="439.40" y2="270.75" stroke="#d9d9d9" stroke-width="1"/>
<line x1="439.40" y1="270.75" x2="439.40" y2="275.10" stroke="#eaeaea" stroke-width="1"/>
<line x1="439.40" y1="275.10" x2="439.40" y2="375.60" stroke="#d9d9d9" stroke-width="1"/>
<line x1="500.94" y1="13.80" x2="500.94" y2="24.50" stroke="#d9d9d9" stroke-width="1"/>
<line x1="500.94" y1="24.50" x2="500.94" y2="29.00" stroke="#eaeaea" stroke-width="1"/>
<line x1="500.94" y1="29.00" x2="500.94" y2="37.60" stroke="#d9d9d9" stroke-width="1"/>
<line x1="500.94" y1="37.60" x2="500.94" y2="42.05" stroke="#eaeaea" stroke-width="1"/>
<line x1="500.94" y1="42.05" x2="500.94" y2="50.65" stroke="#d9d9d9" stroke-width="1"/>
<line x1="500.94" y1="50.65" x2="500.94" y2="55.25" stroke="#eaeaea" stroke-width="1"/>
<line x1="500.94" y1="55.25" x2="500.94" y2="63.85" stroke="#d9d9d9" stroke-width="1"/>
<line x1="500.94" y1="63.85" x2="500.94" y2="68.20" stroke="#eaeaea" stroke-width="1"/>
<line x1="500.94" y1="68.20" x2="500.94" y2="76.80" stroke="#d9d9d9" stroke-width="1"/>
<line x1="500.94" y1="76.80" x2="500.94" y2="81.20" stroke="#eaeaea" stroke-width="1"/>
<line x1="500.94" y1="81.20" x2="500.94" y2="89.80" stroke="#d9d9d9" stroke-width="1"/>
<line x1="500.94" y1="89.80" x2="500.94" y2="94.05" stroke="#eaeaea" stroke-width="1"/>
<line x1="500.94" y1="94.05" x2="500.94" y2="102.65" stroke="#d9d9d9" stroke-width="1"/>
<line x1="500.94" y1="102.65" x2="500.94" y2="106.90" stroke="#eaeaea" stroke-width="1"/>
<line x1="500.94" y1="106.90" x2="500.94" y2="115.50" stroke="#d9d9d9" stroke-width="1"/>
<line x1="500.94" y1="115.50" x2="500.94" y2="119.85" stroke="#eaeaea" stroke-width="1"/>
<line x1="500.94" y1="119.85" x2="500.94" y2="128.45" stroke="#d9d9d9" stroke-width="1"/>
<line x1="500.94" y1="128.45" x2="500.94" y2="132.25" stroke="#eaeaea" stroke-width="1"/>
<line x1="500.94" y1="132.25" x2="500.94" y2="140.85" stroke="#d9d9d9" stroke-width="1"/>
<line x1="500.94" y1="140.85" x2="500.94" y2="145.00" stroke="#eaeaea" stroke-width="1"/>
<line x1="500.94" y1="145.00" x2="500.94" y2="153.60" stroke="#d9d9d9" stroke-width="1"/>
<line x1="500.94" y1="153.60" x2="500.94" y2="158.20" stroke="#eaeaea" stroke-width="1"/>
<line x1="500.94" y1="158.20" x2="500.94" y2="166.80" stroke="#d9d9d9" stroke-width="1"/>
<line x1="500.94" y1="166.80" x2="500.94" y2="171.00" stroke="#eaeaea" stroke-width="1"/>
<line x1="500.94" y1="171.00" x2="500.94" y2="179.60" stroke="#d9d9d9" stroke-width="1"/>
<line x1="500.94" y1="179.60" x2="500.94" y2="183.80" stroke="#eaeaea" stroke-width="1"/>
<line x1="500.94" y1="183.80" x2="500.94" y2="192.40" stroke="#d9d9d9" stroke-width="1"/>
<line x1="500.94" y1="192.40" x2="500.94" y2="197.20" stroke="#eaeaea" stroke-width="1"/>
<line x1="500.94" y1="197.20" x2="500.94" y2="205.80" stroke="#d9d9d9" stroke-width="1"/>
<line x1="500.94" y1="205.80" x2="500.94" y2="210.05" stroke="#eaeaea" stroke-width="1"/>
<line x1="500.94" y1="210.05" x2="500.94" y2="375.60" stroke="#d9d9d9" stroke-width="1"/>
<line x1="562.48" y1="13.80" x2="562.48" y2="24.50" stroke="#d9d9d9" stroke-width="1"/>
<line x1="562.48" y1="24.50" x2="562.48" y2="29.00" stroke="#eaeaea" stroke-width="1"/>
<line x1="562.48" y1="29.00" x2="562.48" y2="37.60" stroke="#d9d9d9" stroke-width="1"/>
<line x1="562.48" y1="37.60" x2="562.48" y2="42.05" stroke="#eaeaea" stroke-width="1"/>
<line x1="562.48" y1="42.05" x2="562.48" y2="50.65" stroke="#d9d9d9" stroke-width="1"/>
<line x1="562.48" y1="50.65" x2="562.48" y2="55.25" stroke="#eaeaea" stroke-width="1"/>
<line x1="562.48" y1="55.25" x2="562.48" y2="63.85" stroke="#d9d9d9" stroke-width="1"/>
<line x1="562.48" y1="63.85" x2="562.48" y2="68.20" stroke="#eaeaea" stroke-width="1"/>
<line x1="562.48" y1="68.20" x2="562.48" y2="76.80" stroke="#d9d9d9" stroke-width="1"/>
<line x1="562.48" y1="76.80" x2="562.48" y2="81.20" stroke="#eaeaea" stroke-width="1"/>
<line x1="562.48" y1="81.20" x2="562.48" y2="375.60" stroke="#d9d9d9" stroke-width="1"/>
<line x1="624.02" y1="13.80" x2="624.02" y2="375.60" stroke="#d9d9d9" stroke-width="1"/>
<rect x="131.40" y="15.90" width="473.40" height="8.6" fill="#9dc3e6"/>
<rect x="131.40" y="29.00" width="462.30" height="8.6" fill="#9dc3e6"/>
<rect x="131.40" y="42.05" width="459.40" height="8.6" fill="#9dc3e6"/>
<rect x="131.40" y="55.25" width="448.50" height="8.6" fill="#9dc3e6"/>
<rect x="131.40" y="68.20" width="448.50" height="8.6" fill="#9dc3e6"/>
<rect x="131.40" y="81.20" width="446.40" height="8.6" fill="#9dc3e6"/>
<rect x="131.40" y="94.05" width="425.40" height="8.6" fill="#9dc3e6"/>
<rect x="131.40" y="106.90" width="406.30" height="8.6" fill="#9dc3e6"/>
<rect x="131.40" y="119.85" width="404.50" height="8.6" fill="#9dc3e6"/>
<rect x="131.40" y="132.25" width="398.30" height="8.6" fill="#9dc3e6"/>
<rect x="131.40" y="145.00" width="397.30" height="8.6" fill="#9dc3e6"/>
<rect x="131.40" y="158.20" width="397.30" height="8.6" fill="#9dc3e6"/>
<rect x="131.40" y="171.00" width="393.30" height="8.6" fill="#9dc3e6"/>
<rect x="131.40" y="183.80" width="391.30" height="8.6" fill="#9dc3e6"/>
<rect x="131.40" y="197.20" width="380.50" height="8.6" fill="#9dc3e6"/>
<rect x="131.40" y="210.05" width="371.20" height="8.6" fill="#9dc3e6"/>
<rect x="131.40" y="222.90" width="351.30" height="8.6" fill="#9dc3e6"/>
<rect x="131.40" y="235.90" width="340.40" height="8.6" fill="#9dc3e6"/>
<rect x="131.40" y="249.10" width="324.30" height="8.6" fill="#9dc3e6"/>
<rect x="131.40" y="262.15" width="323.40" height="8.6" fill="#9dc3e6"/>
<rect x="131.40" y="275.10" width="311.60" height="8.6" fill="#9dc3e6"/>
<rect x="131.40" y="287.81" width="271.40" height="8.6" fill="#9dc3e6"/>
<rect x="131.40" y="301.30" width="268.50" height="8.6" fill="#9dc3e6"/>
<rect x="131.40" y="313.80" width="256.40" height="8.6" fill="#9dc3e6"/>
<rect x="131.40" y="326.65" width="252.40" height="8.6" fill="#9dc3e6"/>
<rect x="131.40" y="339.50" width="191.40" height="8.6" fill="#9dc3e6"/>
<rect x="131.40" y="352.15" width="184.50" height="8.6" fill="#1f4e79"/>
<rect x="131.40" y="365.43" width="147.40" height="8.6" fill="#9dc3e6"/>
<text x="120.88" y="23.64" text-anchor="end" textLength="33.05" lengthAdjust="spacing">Τσεχία</text>
<text x="120.96" y="36.56" text-anchor="end" textLength="51.91" lengthAdjust="spacing">Φινλανδία</text>
<text x="120.90" y="49.49" text-anchor="end" textLength="44.19" lengthAdjust="spacing">Σλοβενία</text>
<text x="120.90" y="62.42" text-anchor="end" textLength="39.67" lengthAdjust="spacing">Εσθονία</text>
<text x="120.90" y="75.34" text-anchor="end" textLength="72.42" lengthAdjust="spacing">Λουξεμβούργο</text>
<text x="120.98" y="88.27" text-anchor="end" textLength="41.24" lengthAdjust="spacing">Σουηδία</text>
<text x="120.98" y="101.19" text-anchor="end" textLength="28.68" lengthAdjust="spacing">Δανία</text>
<text x="120.84" y="114.12" text-anchor="end" textLength="42.34" lengthAdjust="spacing">Πολωνία</text>
<text x="120.98" y="127.04" text-anchor="end" textLength="38.22" lengthAdjust="spacing">Λετονία</text>
<text x="120.93" y="139.97" text-anchor="end" textLength="33.98" lengthAdjust="spacing">Μάλτα</text>
<text x="120.84" y="152.89" text-anchor="end" textLength="40.21" lengthAdjust="spacing">Αυστρία</text>
<text x="120.96" y="165.81" text-anchor="end" textLength="44.31" lengthAdjust="spacing">Γερμανία</text>
<text x="120.98" y="178.74" text-anchor="end" textLength="51.15" lengthAdjust="spacing">Λιθουανία</text>
<text x="121.01" y="191.67" text-anchor="end" textLength="46.90" lengthAdjust="spacing">Ολλανδία</text>
<text x="121.01" y="204.59" text-anchor="end" textLength="39.17" lengthAdjust="spacing">Κροατία</text>
<text x="121.01" y="217.51" text-anchor="end" textLength="45.61" lengthAdjust="spacing">Σλοβακία</text>
<text x="120.94" y="230.44" text-anchor="end" textLength="47.17" lengthAdjust="spacing">Ουγγαρία</text>
<text x="120.94" y="243.37" text-anchor="end" textLength="31.80" lengthAdjust="spacing">Βέλγιο</text>
<text x="120.93" y="256.80" text-anchor="end" textLength="90.48" lengthAdjust="spacing">Ηνωμένο Βασίλειο</text>
<text x="120.98" y="269.22" text-anchor="end" textLength="57.28" lengthAdjust="spacing">Πορτογαλία</text>
<text x="120.89" y="282.14" text-anchor="end" textLength="32.69" lengthAdjust="spacing">Γαλλία</text>
<text x="120.98" y="295.06" text-anchor="end" textLength="42.45" lengthAdjust="spacing">Ιρλανδία</text>
<text x="120.89" y="307.99" text-anchor="end" textLength="52.43" lengthAdjust="spacing">Βουλγαρία</text>
<text x="120.92" y="320.92" text-anchor="end" textLength="46.46" lengthAdjust="spacing">Ρουμανία</text>
<text x="121.59" y="333.84" text-anchor="end" textLength="36.48" lengthAdjust="spacing">Κύπρος</text>
<text x="120.89" y="346.76" text-anchor="end" textLength="38.80" lengthAdjust="spacing">Ισπανία</text>
<text x="120.90" y="359.69" text-anchor="end" textLength="36.19" lengthAdjust="spacing">Ελλάδα</text>
<text x="114.25" y="372.62" text-anchor="end" textLength="30.57" lengthAdjust="spacing">Ιταλία</text>
<text x="132.10" y="395" text-anchor="middle" class="ax">0</text>
<text x="193.64" y="395" text-anchor="middle" class="ax">10</text>
<text x="255.18" y="395" text-anchor="middle" class="ax">20</text>
<text x="316.72" y="395" text-anchor="middle" class="ax">30</text>
<text x="378.26" y="395" text-anchor="middle" class="ax">40</text>
<text x="439.80" y="395" text-anchor="middle" class="ax">50</text>
<text x="501.34" y="395" text-anchor="middle" class="ax">60</text>
<text x="562.88" y="395" text-anchor="middle" class="ax">70</text>
<text x="624.42" y="395" text-anchor="middle" class="ax">80</text>
<text x="20.71" y="427.8" class="src" textLength="29.79" lengthAdjust="spacingAndGlyphs">Πηγή:</text>
<text x="52.35" y="427.8" class="src" textLength="45.22" lengthAdjust="spacingAndGlyphs">CEDEFOP</text>
</svg>
</body></html>
